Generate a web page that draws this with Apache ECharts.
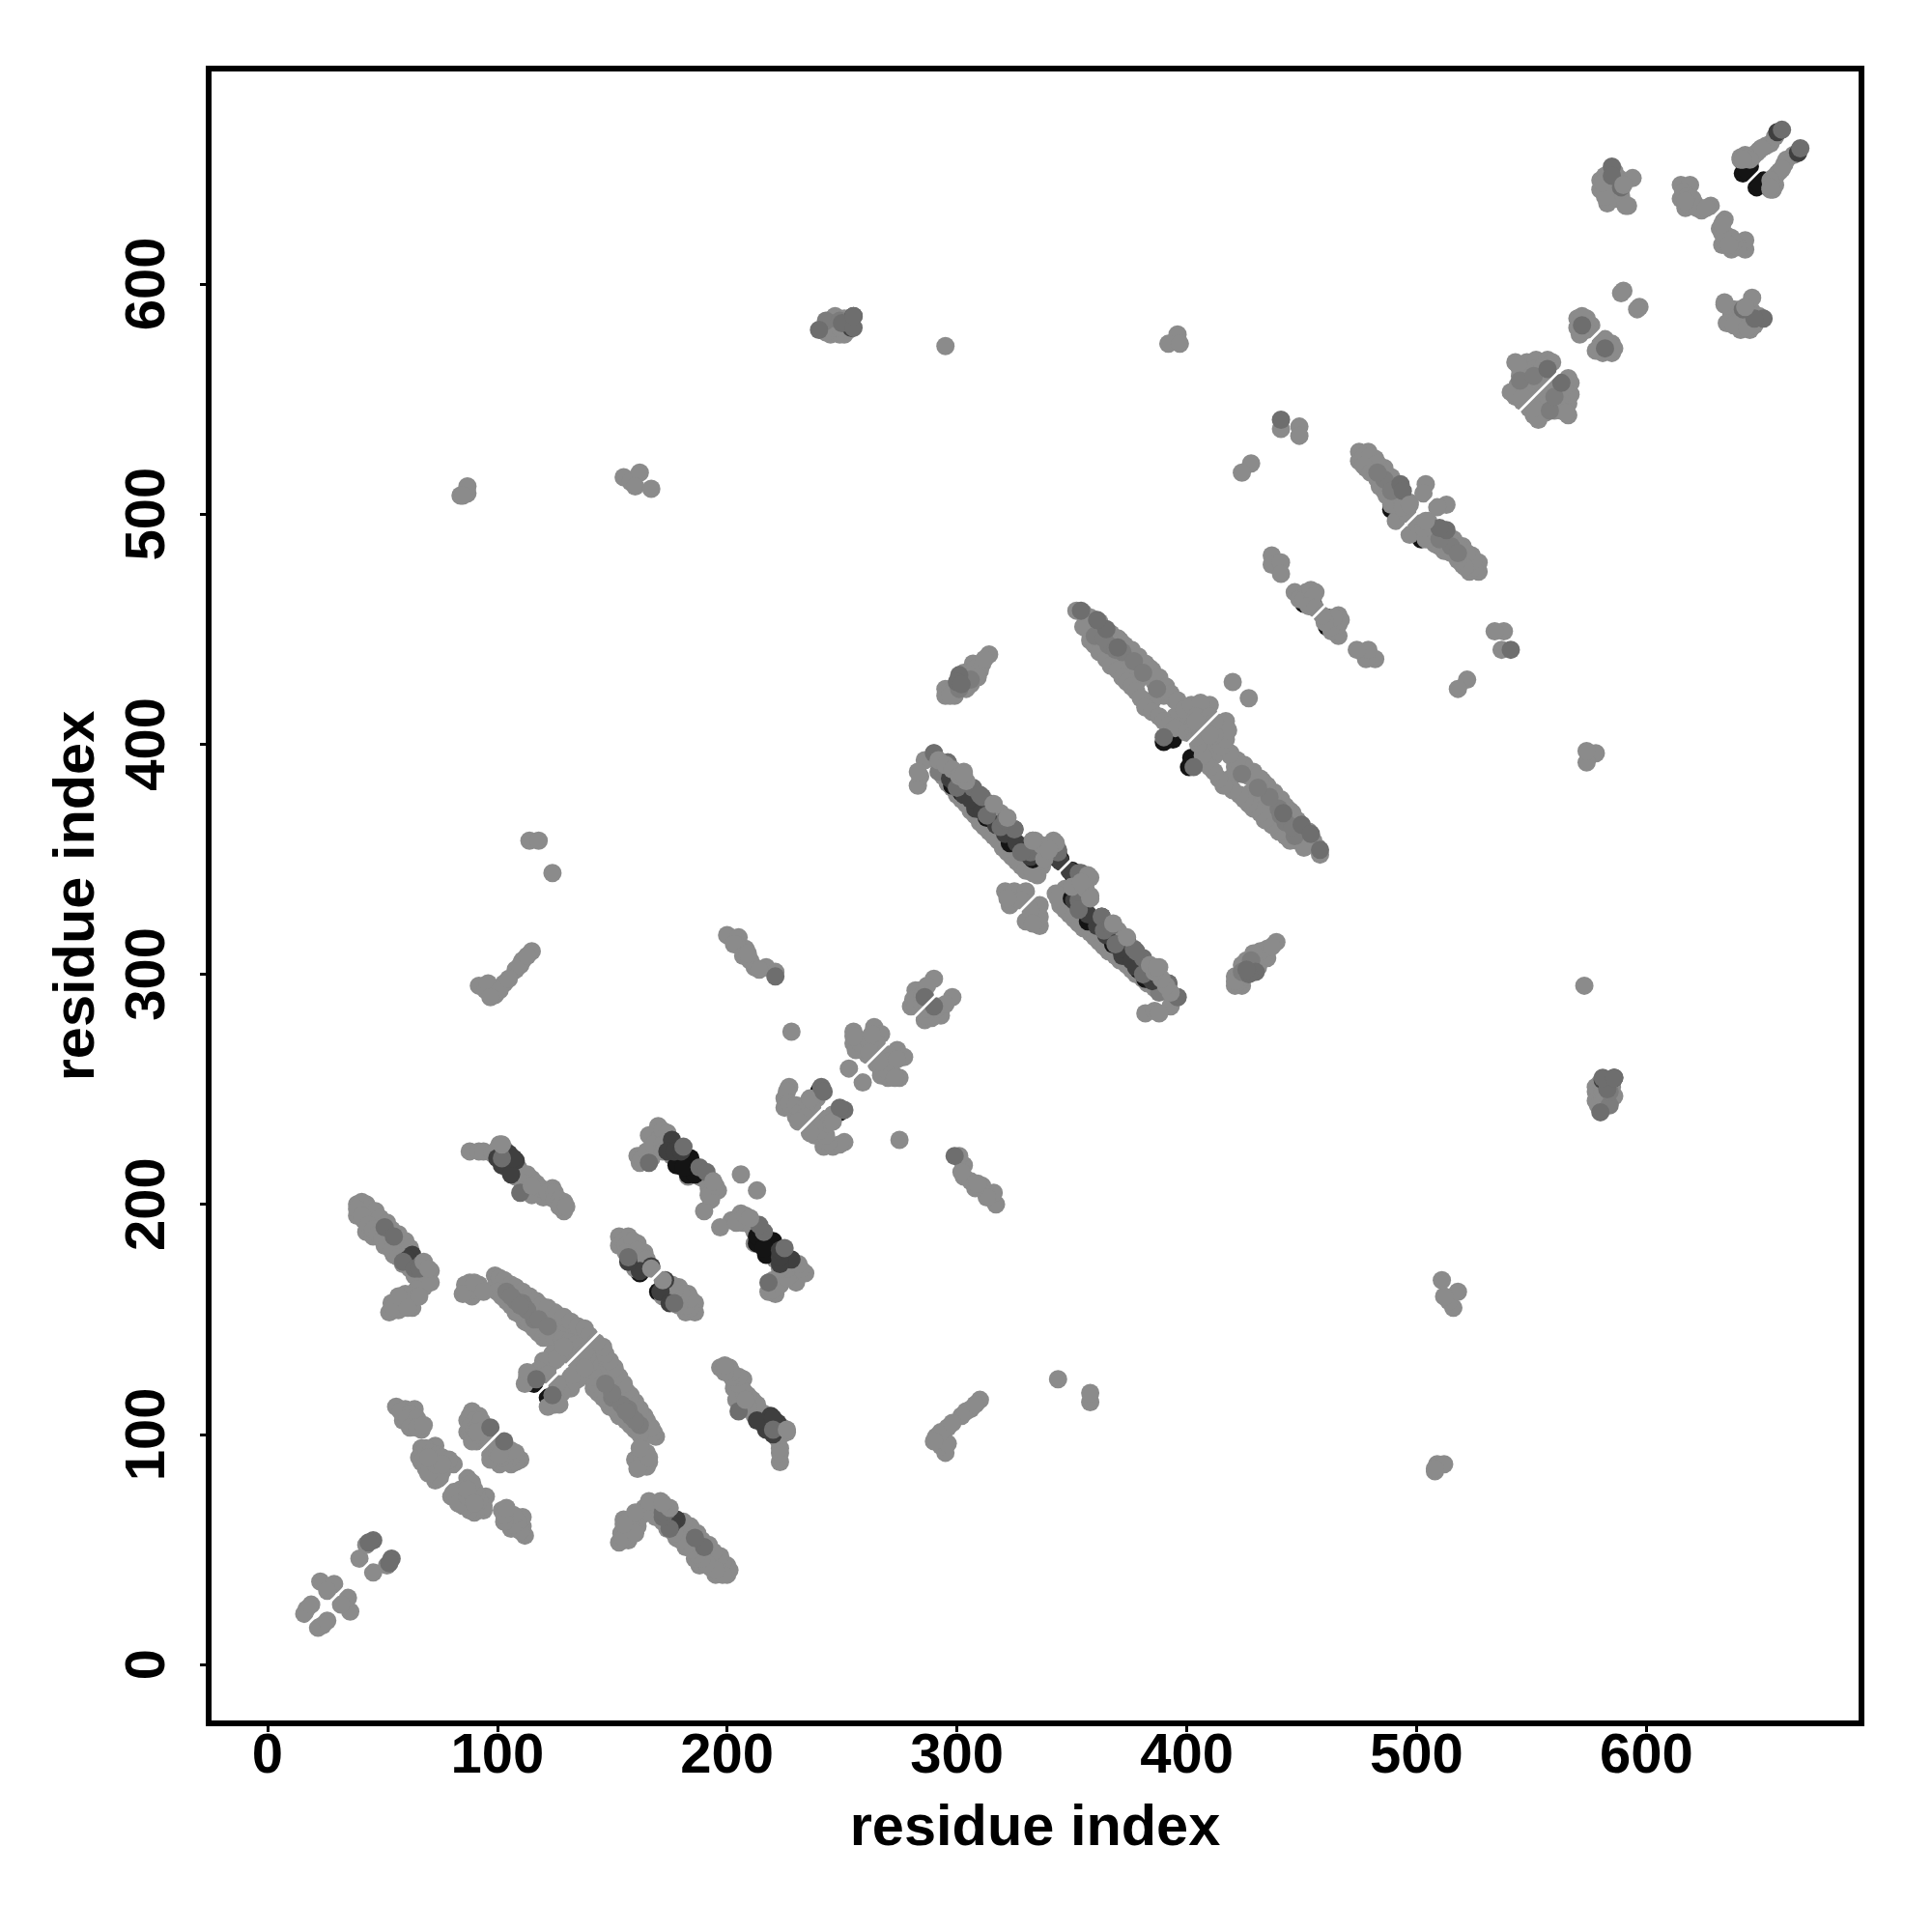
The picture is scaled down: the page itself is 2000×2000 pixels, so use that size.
<!DOCTYPE html>
<html><head><meta charset="utf-8">
<script src="https://cdn.jsdelivr.net/npm/echarts@6/dist/echarts.min.js"></script>
<style>html,body{margin:0;padding:0;background:#fff}#c{width:2000px;height:2000px}</style>
</head><body><div id="c"></div>
<script>
const tickValues = [0,100,200,300,400,500,600];
const axisTitle = "residue index";
// contact pairs [i,j], i<j, each drawn at (i,j) and (j,i)
const underContacts = [
[116,122],[113,123],[492,502],[489,502],[645,651],[642,648],[642,653],[644,649],[345,350],[394,402],[390,401],[162,170],[455,461],[451,461],[240,249],[300,424]
];
const lightContacts = [
[23,36],[29,35],[26,32],[17,24],[16,22],[19,26],[40,46],[43,52],
[39,200],[43,200],[39,195],[42,193],[43,188],[46,194],[46,186],[51,182],[55,178],[59,182],[67,164],[64,160],[60,161],[63,155],[54,157],[53,153],[57,154],[60,157],
[41,201],[44,198],[47,197],[49,194],[52,192],[54,189],[57,187],[60,184],[62,181],[39,198],[41,195],[44,191],[46,189],[48,187],[50,185],[52,182],[54,180],[57,177],[59,174],[62,172],[64,169],[69,168],[68,164],[65,163],[62,160],[58,157],[55,155],[61,158],[66,160],[57,160],[61,155],
[88,166],[87,162],[89,160],[92,165],[99,169],[99,164],[104,166],[104,160],[109,162],[108,155],[113,158],[113,151],[120,153],[119,146],[125,153],[126,146],[129,144],[137,146],[134,142],[125,140],[125,132],[122,129],[113,125],[128,136],[132,134],
[101,168],[103,167],[106,165],[108,164],[111,162],[114,160],[117,158],[119,156],[122,155],[126,152],[129,151],[132,149],[135,147],[138,146],[140,143],[100,162],[102,160],[104,158],[106,156],[108,153],[110,152],[112,149],[114,148],[116,146],[118,144],[120,142],[122,143],[125,142],[128,141],[131,140],[134,139],[136,138],
[90,163],[86,165],[85,161],[90,166],[94,162],[127,137],[124,135],[120,132],[118,128],[115,126],[112,122],[122,126],[126,133],[129,138],[113,127],
[56,112],[60,111],[64,111],[59,106],[63,105],[67,102],[67,94],[73,95],[66,90],[71,88],[73,80],[81,87],[76,84],[69,85],[78,87],[68,92],
[58,110],[62,109],[61,107],[65,107],[62,103],[65,103],[68,104],[69,94],[71,92],[74,91],[76,90],[79,89],[67,88],[69,87],[72,85],[74,84],[75,81],[70,83],[73,87],[76,87],[70,90],
[89,110],[87,106],[92,108],[87,101],[91,97],[92,104],[94,99],[90,99],[88,108],[90,106],[88,103],[90,102],[93,106],[94,102],[89,97],[92,100],[95,101],[91,101],
[88,223],[92,223],[94,223],[101,226],[112,211],[115,211],[111,207],[115,204],[124,207],[123,203],[129,197],[129,201],[120,203],
[98,222],[100,224],[103,224],[109,216],[104,216],[108,212],[110,214],[113,213],[112,209],[114,207],[117,209],[117,205],[119,207],[122,205],[125,205],[125,202],[127,202],[127,199],[130,199],
[161,221],[162,218],[167,220],[166,230],[170,234],[170,228],[194,209],[196,206],[193,202],[190,197],[206,213],
[163,220],[165,223],[168,226],[172,232],[172,226],[174,231],[172,223],[176,221],[180,219],[183,212],[188,212],[190,211],[192,207],[194,205],[192,204],[195,208],
[153,186],[157,186],[153,182],[161,183],[164,179],[158,179],[160,174],[155,184],[156,182],[159,184],[156,179],[161,180],[159,176],[162,177],[165,176],[160,172],
[92,295],[99,291],[103,296],[108,302],[111,306],[115,310],[95,293],[96,296],[101,293],[105,298],[110,304],[113,308],[97,290],
[114,358],[118,358],[124,344],
[84,508],[87,509],[87,512],[85,508],
[155,516],[158,514],[162,518],[160,512],[167,511],
[242,580],[244,582],[247,586],[249,578],[245,578],[251,578],[243,579],[246,581],[248,583],[251,585],[252,582],[246,585],[253,580],[249,581],
[295,573],[396,578],[392,574],[397,574],
[200,317],[205,316],[208,311],[204,313],[212,303],[217,303],[221,301],[203,313],[207,308],[210,306],[214,302],[209,309],
[228,275],
[227,251],[225,246],[225,242],[228,242],[230,238],[233,242],[239,246],[237,242],[226,249],[227,244],[230,243],[232,240],[235,244],[234,238],[236,246],[231,236],
[253,259],[255,275],[255,270],[259,267],[264,277],[267,274],[265,270],[261,265],[257,272],[256,267],[258,270],[262,270],[263,274],[255,273],[262,266],
[280,286],[284,293],[290,298],[283,289],[286,291],[282,293],[281,289],[285,291],[287,295],[282,286],[285,287],
[314,439],[311,435],[307,435],[305,431],[303,426],[295,424],[295,421],[299,421],[307,430],[304,424],[297,423],[299,425],[301,428],[303,431],[308,433],[310,432],[312,437],[304,428],[306,426],[297,421],[309,429],
[283,382],[284,386],[286,393],[290,396],[283,388],[303,388],[319,370],[333,358],[342,358],[337,347],[335,343],
[294,386],[296,383],[298,381],[300,378],[302,376],[304,374],[306,371],[308,369],[310,366],[312,364],[314,362],[316,360],[318,358],[320,355],[322,353],[324,351],[326,349],[328,347],[330,345],[333,344],
[321,336],[325,336],[330,336],[323,330],[328,332],[322,333],
[352,458],[358,453],[362,453],[366,448],[358,448],[371,445],[363,442],[368,437],[374,437],[379,434],[385,429],[379,428],[390,421],[385,419],[395,419],[395,412],[399,409],[405,417],[410,417],[403,409],[407,414],[372,442],[376,438],[376,430],[384,433],[386,427],
[355,457],[358,455],[361,452],[364,450],[367,448],[370,446],[373,443],[376,441],[379,438],[382,435],[385,432],[388,429],[391,425],[393,422],[396,419],[355,451],[358,445],[360,443],[362,440],[365,437],[367,434],[370,432],[372,429],[374,427],[376,425],[378,423],[380,420],[382,416],[385,414],[388,412],[390,410],[392,408],[395,407],
[399,415],[402,417],[406,418],[404,412],[400,405],[403,404],[408,409],[410,412],[406,406],
[420,427],
[441,537],[449,538],[449,534],[428,522],[424,518],
[475,527],[479,527],[475,523],[482,524],[478,520],[486,520],[483,515],[489,516],[486,510],[491,505],[497,505],[491,497],[496,500],[504,513],[503,509],
[477,525],[480,525],[483,522],[486,518],[489,514],[491,512],[477,521],[480,518],[482,517],[484,512],[487,508],[489,504],[494,505],[488,512],[492,510],[494,503],
[437,482],[437,478],[441,479],[441,474],[447,466],[452,466],[456,466],[452,462],[449,463],[451,463],[454,467],[455,464],[453,460],[456,459],
[543,566],[548,566],[552,567],[557,567],[559,566],[551,563],[547,561],[547,557],[550,559],[543,551],[545,553],[548,554],
[545,563],[549,561],[553,560],[555,564],[545,560],[544,556],[548,558],[552,556],[550,553],[546,549],[554,557],[541,553],[546,551],[544,565],[556,560],
[570,585],[574,585],[570,581],[576,582],[572,584],[572,586],[574,580],[571,578],
[590,597],[589,596],
[580,645],[588,646],[580,641],[584,638],[591,634],[583,641],[585,644],[587,640],[582,647],[587,637],[586,649],[589,638],[583,635],
[615,643],[619,643],[615,637],[617,633],[621,635],[624,632],[628,634],[616,640],[618,638],[620,637],[619,634],[622,633],[617,636],[626,633],
[592,634],[589,641],[594,646],[582,638],[581,644],
[641,655],[646,655],[652,660],[649,658],[654,641],[648,657],[654,661],[656,664],[650,659],[643,656]
];
const softContacts = [
[104,162],[108,158],[112,155],[116,150],[111,157],[113,154],[106,160],[110,156],[118,150],[122,147],
[360,447],[366,443],[372,440],[377,436],[364,446],[369,441],[381,431],[387,424],
[486,515],[489,510],[483,518],[545,558],[551,560],
[292,388],[301,424],[306,428],[243,584],[249,584]
];
const blackContacts = [
[64,175],[184,220],[178,217],[183,213],[186,213],[181,216],[344,350],[323,360],[310,374],[333,350],[323,357],[313,368],[298,382],[302,379]
];
const darkContacts = [
[63,178],[61,176],[105,222],[108,219],[100,220],[102,217],[106,213],[107,220],
[176,228],[174,223],[177,223],[180,223],[167,173],[162,171],[157,175],
[297,385],[315,374],[308,372],[321,361],[332,351],[299,383],[303,378],[306,376],[311,371],[317,365],[326,357],[329,354],[345,349],[314,374],[325,363],
[657,666],[255,586],[581,254]
];
const midContacts = [
[46,54],[44,53],[51,190],[55,186],[59,175],[64,172],[67,174],[66,172],
[117,124],[97,103],
[102,220],[110,205],[188,216],[191,214],[181,225],[166,218],[157,177],
[296,392],[307,381],[311,377],[300,381],[325,363],[344,354],[336,354],[332,353],[328,353],[313,369],[319,364],[344,353],[321,367],[310,378],[296,392],[290,396],
[365,450],[361,454],[354,458],[370,442],[390,403],
[301,430],[300,427],[302,426],
[441,541],[493,513],[494,510],
[572,582],[557,563],
[585,651],[589,642],[585,647],
[241,251],[242,249],[221,299],[286,290],[250,583],[240,580],
[255,581],[586,255],[659,667]
];
const lightFront = [
[71,171],[71,166],[68,175],[70,172],[102,226],[115,208],[194,210],[343,357],[338,350],[292,393],[295,391],[298,389],[301,386],[304,384],[316,374],[322,368],[334,358],[337,356],[340,354],[303,387],[333,358],[404,410],[590,643],[645,654],[497,504],[654,642],[167,172]
];
const diagonal = [[-25.6,-25.6],[693.6,693.6]];

const both = a => a.flatMap(p => [[p[0],p[1]],[p[1],p[0]]]);
const mk = (name,data,color) => ({name,type:'scatter',data:both(data),symbol:'circle',symbolSize:19,
  itemStyle:{color,opacity:1},silent:true,animation:false});
const font = {fontFamily:'Liberation Sans',fontWeight:'bold',fontSize:58,color:'#000'};
const axis = (extra) => Object.assign({
  type:'value',min:-25.6,max:693.6,name:axisTitle,nameLocation:'middle',nameMoveOverlap:false,
  nameTextStyle:Object.assign({},font,{fontSize:59.5}),splitLine:{show:false},axisLine:{show:false,onZero:false},
  axisTick:{show:true,length:9,lineStyle:{color:'#000',width:3},customValues:tickValues},
}, extra);
const chart = echarts.init(document.getElementById('c'),null,{renderer:'canvas'});
chart.setOption({
  animation:false,backgroundColor:'#fff',
  grid:{left:216,top:71,width:1711,height:1713,show:false},
  graphic:[{type:'rect',z:100,silent:true,shape:{x:216,y:71,width:1711,height:1713},style:{fill:null,stroke:'#000',lineWidth:6,lineJoin:'miter'}}],
  xAxis:axis({nameGap:80,axisLabel:Object.assign({},font,{margin:6,customValues:tickValues})}),
  yAxis:axis({nameGap:105,axisLabel:Object.assign({},font,{rotate:90,margin:62,customValues:tickValues,align:'center',verticalAlign:'middle'})}),
  series:[
    mk('under',underContacts,'#141414'),
    mk('light',lightContacts,'#8b8b8b'),
    mk('soft',softContacts,'#7c7c7c'),
    mk('black',blackContacts,'#141414'),
    mk('dark',darkContacts,'#3f3f3f'),
    mk('mid',midContacts,'#6e6e6e'),
    mk('front',lightFront,'#8b8b8b'),
    {name:'diagonal',type:'line',data:diagonal,symbol:'none',lineStyle:{color:'#fff',width:2.5},silent:true,animation:false,z:5}
  ]
});
</script></body></html>
